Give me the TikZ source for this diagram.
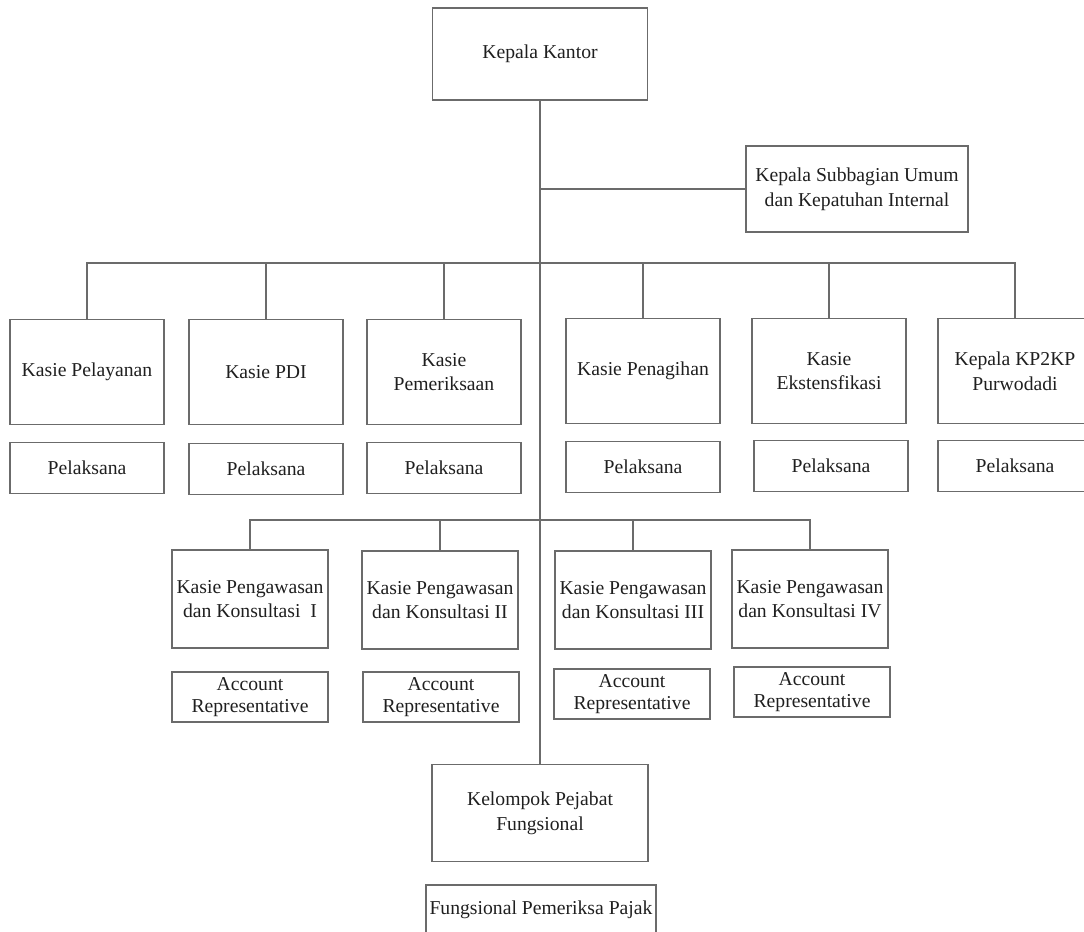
\documentclass[tikz,border=0pt]{standalone}
\usepackage{fontspec}
\setmainfont{Liberation Serif}
\begin{document}
\begin{tikzpicture}[x=0.02cm,y=-0.02cm]
\tikzstyle{every node}+=[inner sep=0pt]
\tikzstyle{box}=[draw=black!58, line width=0.65pt, align=center, text=black!88, font=\fontsize{11.2}{14}\selectfont]
\tikzstyle{seksi}=[box, minimum width=3.08cm, minimum height=2.1cm]
\tikzstyle{pelaksana}=[box, minimum width=3.08cm, minimum height=1.02cm]
\tikzstyle{waskon}=[box, minimum width=3.12cm, minimum height=1.96cm]
\tikzstyle{ar}=[box, minimum width=3.12cm, minimum height=1.0cm, font=\fontsize{11.2}{12.3}\selectfont]
\tikzstyle{link}=[draw=black!58, line width=0.65pt]
\clip (0,0) rectangle (1084,932);
\node [box, minimum width=4.3cm, minimum height=1.84cm] (kk) at (540,54) {Kepala Kantor};
\node [box, minimum width=4.44cm, minimum height=1.72cm] (sub) at (857,189) {Kepala Subbagian Umum\\dan Kepatuhan Internal};
\node [seksi] (pelayanan) at (87,372) {Kasie Pelayanan};
\node [seksi] (pdi) at (266,372) {Kasie PDI};
\node [seksi] (periksa) at (444,372) {Kasie\\Pemeriksaan};
\node [seksi] (tagih) at (643,371) {Kasie Penagihan};
\node [seksi] (ekstens) at (829,371) {Kasie\\Ekstensfikasi};
\node [seksi] (kp2kp) at (1015,371) {Kepala KP2KP\\Purwodadi};
\node [pelaksana] (pl1) at (87,468) {Pelaksana};
\node [pelaksana] (pl2) at (266,469) {Pelaksana};
\node [pelaksana] (pl3) at (444,468) {Pelaksana};
\node [pelaksana] (pl4) at (643,467) {Pelaksana};
\node [pelaksana] (pl5) at (831,466) {Pelaksana};
\node [pelaksana] (pl6) at (1015,466) {Pelaksana};
\node [waskon] (waskon1) at (250,599) {Kasie Pengawasan\\dan Konsultasi\enspace I};
\node [waskon] (waskon2) at (440,600) {Kasie Pengawasan\\dan Konsultasi II};
\node [waskon] (waskon3) at (633,600) {Kasie Pengawasan\\dan Konsultasi III};
\node [waskon] (waskon4) at (810,599) {Kasie Pengawasan\\dan Konsultasi IV};
\node [ar] (ar1) at (250,697) {Account\\Representative};
\node [ar] (ar2) at (441,697) {Account\\Representative};
\node [ar] (ar3) at (632,694) {Account\\Representative};
\node [ar] (ar4) at (812,692) {Account\\Representative};
\node [box, minimum width=4.32cm, minimum height=1.94cm] (kjf) at (540,813) {Kelompok Pejabat\\Fungsional};
\node [box, minimum width=4.6cm, minimum height=1.4cm] (fpp) at (541,920) {};
\node [font=\fontsize{11.2}{14}\selectfont, text=black!88] (fpptext) at (541,910) {Fungsional Pemeriksa Pajak};
\coordinate (bar1) at (540,263);
\coordinate (bar2) at (540,520);
\draw [link] (kk.south) -- (kjf.north);
\draw [link] (sub.west) -- (sub.west -| kk.south);
\draw [link] (pelayanan.north) |- (bar1);
\draw [link] (pdi.north) |- (bar1);
\draw [link] (periksa.north) |- (bar1);
\draw [link] (tagih.north) |- (bar1);
\draw [link] (ekstens.north) |- (bar1);
\draw [link] (kp2kp.north) |- (bar1);
\draw [link] (waskon1.north) |- (bar2);
\draw [link] (waskon2.north) |- (bar2);
\draw [link] (waskon3.north) |- (bar2);
\draw [link] (waskon4.north) |- (bar2);
\end{tikzpicture}
\end{document}
